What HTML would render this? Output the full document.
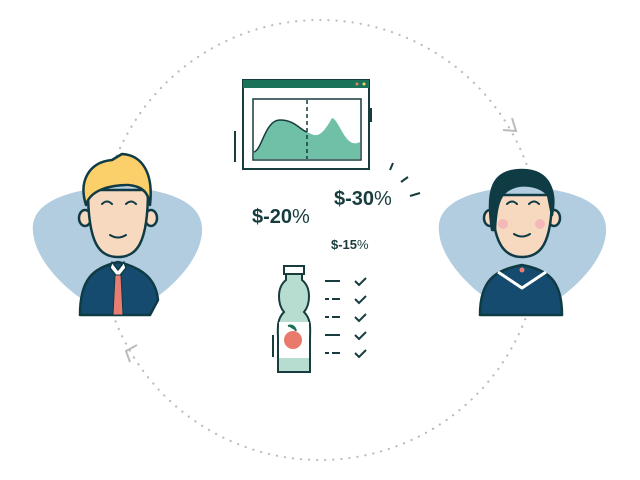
<!DOCTYPE html>
<html><head><style>
body{margin:0;background:#fff;}
svg{display:block}
text{font-family:"Liberation Sans",sans-serif;fill:#173c3e;font-weight:bold}
</style></head><body>
<svg width="640" height="480" viewBox="0 0 640 480">
<!-- dotted circle -->
<circle cx="320" cy="240" r="220" fill="none" stroke="#bbb" stroke-width="2.2" stroke-dasharray="0.1 8" stroke-linecap="round"/>
<polyline points="503,130 516,131 512,118" fill="none" stroke="#bbb" stroke-width="2"/>
<polyline points="137,345 126,351 130,362" fill="none" stroke="#bbb" stroke-width="2"/>
<!-- blobs -->
<path d="M118,186 C60,190 30,205 33,232 C36,270 90,312 118,315 C146,312 200,270 202,232 C204,205 176,190 118,186Z" fill="#b2cde0"/>
<path d="M522,186 C464,190 436,205 439,232 C442,270 496,312 522,315 C550,312 604,270 606,232 C608,205 580,190 522,186Z" fill="#b2cde0"/>
<g stroke="#0f3b45" stroke-width="2.5" stroke-linejoin="round">
<!-- man -->
<path d="M80,315 C80,280 92,268 118,262 C144,268 156,280 158,300 L150,315Z" fill="#154b6e"/>
<path d="M112,262 L118,270 L124,262 L126,268 L118,278 L110,268Z" fill="#fff" stroke-width="1.5"/>
<path d="M115,275 L121,275 L123,315 L113,315Z" fill="#e97d72" stroke-width="1"/>
<ellipse cx="85" cy="218" rx="6" ry="8" fill="#f7d9c0"/>
<ellipse cx="151" cy="218" rx="6" ry="8" fill="#f7d9c0"/>
<path d="M88,190 C88,245 100,257 118,257 C136,257 148,245 148,190Z" fill="#f7d9c0"/>
<path d="M86,205 C78,180 90,162 112,160 L122,154 C140,155 154,170 150,205 C148,190 140,186 128,185 C110,185 90,190 86,205Z" fill="#fbd06a"/>
<!-- woman -->
<path d="M480,315 C480,280 495,270 522,265 C548,270 562,280 562,315Z" fill="#154b6e"/>
<path d="M498,272 L522,288 L546,272" fill="none" stroke="#fff" stroke-width="3"/>
<ellipse cx="490" cy="218" rx="6" ry="8" fill="#f7d9c0"/>
<ellipse cx="554" cy="218" rx="6" ry="8" fill="#f7d9c0"/>
<path d="M492,195 C492,245 505,257 522,257 C540,257 552,245 552,195Z" fill="#f7d9c0"/>
<path d="M492,230 C486,190 492,170 522,170 C552,170 556,195 552,215 L548,195 C540,185 520,182 508,190 C500,195 496,205 495,230Z" fill="#0f3b45"/>
</g>
<circle cx="503" cy="224" r="5" fill="#f4b8b8"/><circle cx="540" cy="224" r="5" fill="#f4b8b8"/>
<circle cx="522" cy="270" r="2.5" fill="#e97d72"/>
<g fill="none" stroke="#0f3b45" stroke-width="2" stroke-linecap="round">
<path d="M102,204 q5,-5 10,0 M126,204 q5,-5 10,0 M110,235 q8,5 16,0"/>
<path d="M507,204 q5,-5 10,0 M529,204 q5,-5 10,0 M514,234 q8,5 16,0"/>
</g>
<!-- chart window -->
<rect x="243" y="80" width="126" height="89" fill="#fff" stroke="#173c3e" stroke-width="2"/>
<rect x="243" y="80" width="126" height="8" fill="#1a7259"/>
<circle cx="357" cy="84" r="1.5" fill="#e97d72"/><circle cx="364" cy="84" r="1.5" fill="#fbd06a"/>
<rect x="253" y="99" width="108" height="61" fill="#fff" stroke="#173c3e" stroke-width="1.5"/>
<path d="M254,152 C262,150 265,120 280,120 C295,120 300,130 307,132 C315,136 320,140 332,118 C340,120 345,150 360,142 L360,159 L254,159Z" fill="#6fc0a6"/>
<path d="M254,152 C262,150 265,120 280,120 C295,120 300,130 307,132" fill="none" stroke="#173c3e" stroke-width="1.5"/>
<line x1="307" y1="100" x2="307" y2="159" stroke="#173c3e" stroke-width="1.5" stroke-dasharray="4 3"/>
<line x1="235" y1="131" x2="235" y2="162" stroke="#173c3e" stroke-width="2"/>
<line x1="371" y1="108" x2="371" y2="122" stroke="#173c3e" stroke-width="2"/>
<g stroke="#173c3e" stroke-width="2"><line x1="390" y1="170" x2="393" y2="163"/><line x1="401" y1="182" x2="408" y2="177"/><line x1="410" y1="196" x2="420" y2="193"/></g>
<text x="334" y="205" font-size="20">$-30<tspan font-weight="normal">%</tspan></text>
<text x="252" y="223" font-size="20">$-20<tspan font-weight="normal">%</tspan></text>
<text x="331" y="249" font-size="13">$-15<tspan font-weight="normal">%</tspan></text>
<!-- bottle -->
<path d="M286,272 L286,280 C276,288 278,305 284,312 C276,320 278,330 278,340 L278,372 L310,372 L310,340 C310,330 312,320 304,312 C310,305 312,288 302,280 L302,272Z" fill="#b7ddd0" stroke="#173c3e" stroke-width="2"/>
<rect x="284" y="266" width="20" height="8" fill="#fff" stroke="#173c3e" stroke-width="2"/>
<rect x="279" y="322" width="30" height="36" fill="#fff"/>
<circle cx="293" cy="340" r="9" fill="#ea7a6c"/>
<path d="M288,326 q6,-2 8,5" fill="#1a7259" stroke="#1a7259" stroke-width="2"/>
<line x1="273" y1="335" x2="273" y2="357" stroke="#173c3e" stroke-width="2"/>
<g stroke="#173c3e" stroke-width="2" fill="none">
<path d="M325,281 h15 M325,299 h4 M332,299 h8 M325,317 h4 M332,317 h8 M325,335 h15 M325,353 h4 M332,353 h8"/>
<path d="M355,281 l4,4 l7,-7 M355,299 l4,4 l7,-7 M355,317 l4,4 l7,-7 M355,335 l4,4 l7,-7 M355,353 l4,4 l7,-7"/>
</g>
</svg>
</body></html>
